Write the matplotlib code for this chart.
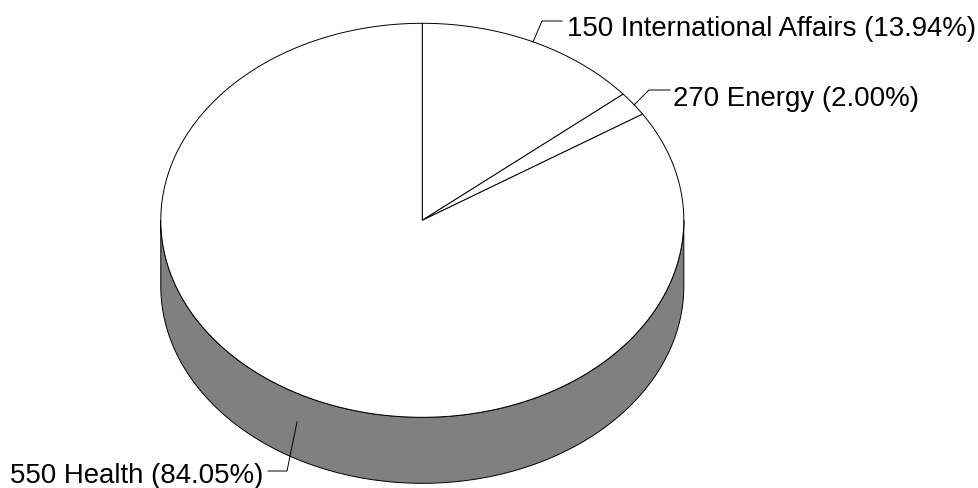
import numpy as np
import matplotlib
matplotlib.use("Agg")
import matplotlib.pyplot as plt

categories = ["150 International Affairs", "270 Energy", "550 Health"]
shares = [13.94, 2.00, 84.05]

plt.rcParams["font.family"] = ["Liberation Sans", "DejaVu Sans"]

W, H = 979, 489
fig = plt.figure(figsize=(W / 100, H / 100), dpi=100, facecolor="white")
ax = fig.add_axes([0, 0, 1, 1])
ax.set_xlim(0, W)
ax.set_ylim(H, 0)
ax.axis("off")

cx, cy, rx, ry, depth = 422.3, 221.3, 261.5, 197, 66
edge_lw = 0.7
line = dict(color="black", lw=edge_lw, solid_joinstyle="round")


def rim(theta):
    # theta runs clockwise from twelve o'clock
    return cx + rx * np.sin(theta), cy - ry * np.cos(theta)


fractions = np.array(shares) / sum(shares)
edges = np.concatenate([[0], np.cumsum(fractions)]) * 2 * np.pi

# side wall of the disc, visible only along the front half
front = np.linspace(np.pi / 2, 3 * np.pi / 2, 400)
fx, fy = rim(front)
ax.fill(np.r_[fx, fx[::-1]], np.r_[fy, fy[::-1] + depth],
        facecolor="#808080", edgecolor="black", lw=edge_lw, zorder=1)

# top face, one white slice per category
for start, stop in zip(edges[:-1], edges[1:]):
    t = np.linspace(start, stop, 400)
    x, y = rim(t)
    ax.fill(np.r_[cx, x, cx], np.r_[cy, y, cy], facecolor="white",
            edgecolor="black", lw=edge_lw, joinstyle="round", zorder=2)

# labels with their leader lines
ax.plot([533, 542, 562], [43, 22, 22], zorder=3, **line)
ax.plot([634, 649, 670], [106, 91, 91], zorder=3, **line)
ax.plot([297, 287, 268], [423, 472, 472], zorder=3, **line)

fs = 19.9
ax.text(567, 35.5, f"{categories[0]} ({shares[0]:.2f}%)", fontsize=fs, ha="left", va="baseline")
ax.text(673.5, 105.5, f"{categories[1]} ({shares[1]:.2f}%)", fontsize=fs, ha="left", va="baseline")
ax.text(10, 483, f"{categories[2]} ({shares[2]:.2f}%)", fontsize=fs, ha="left", va="baseline")

fig.savefig("out.png", dpi=100)
